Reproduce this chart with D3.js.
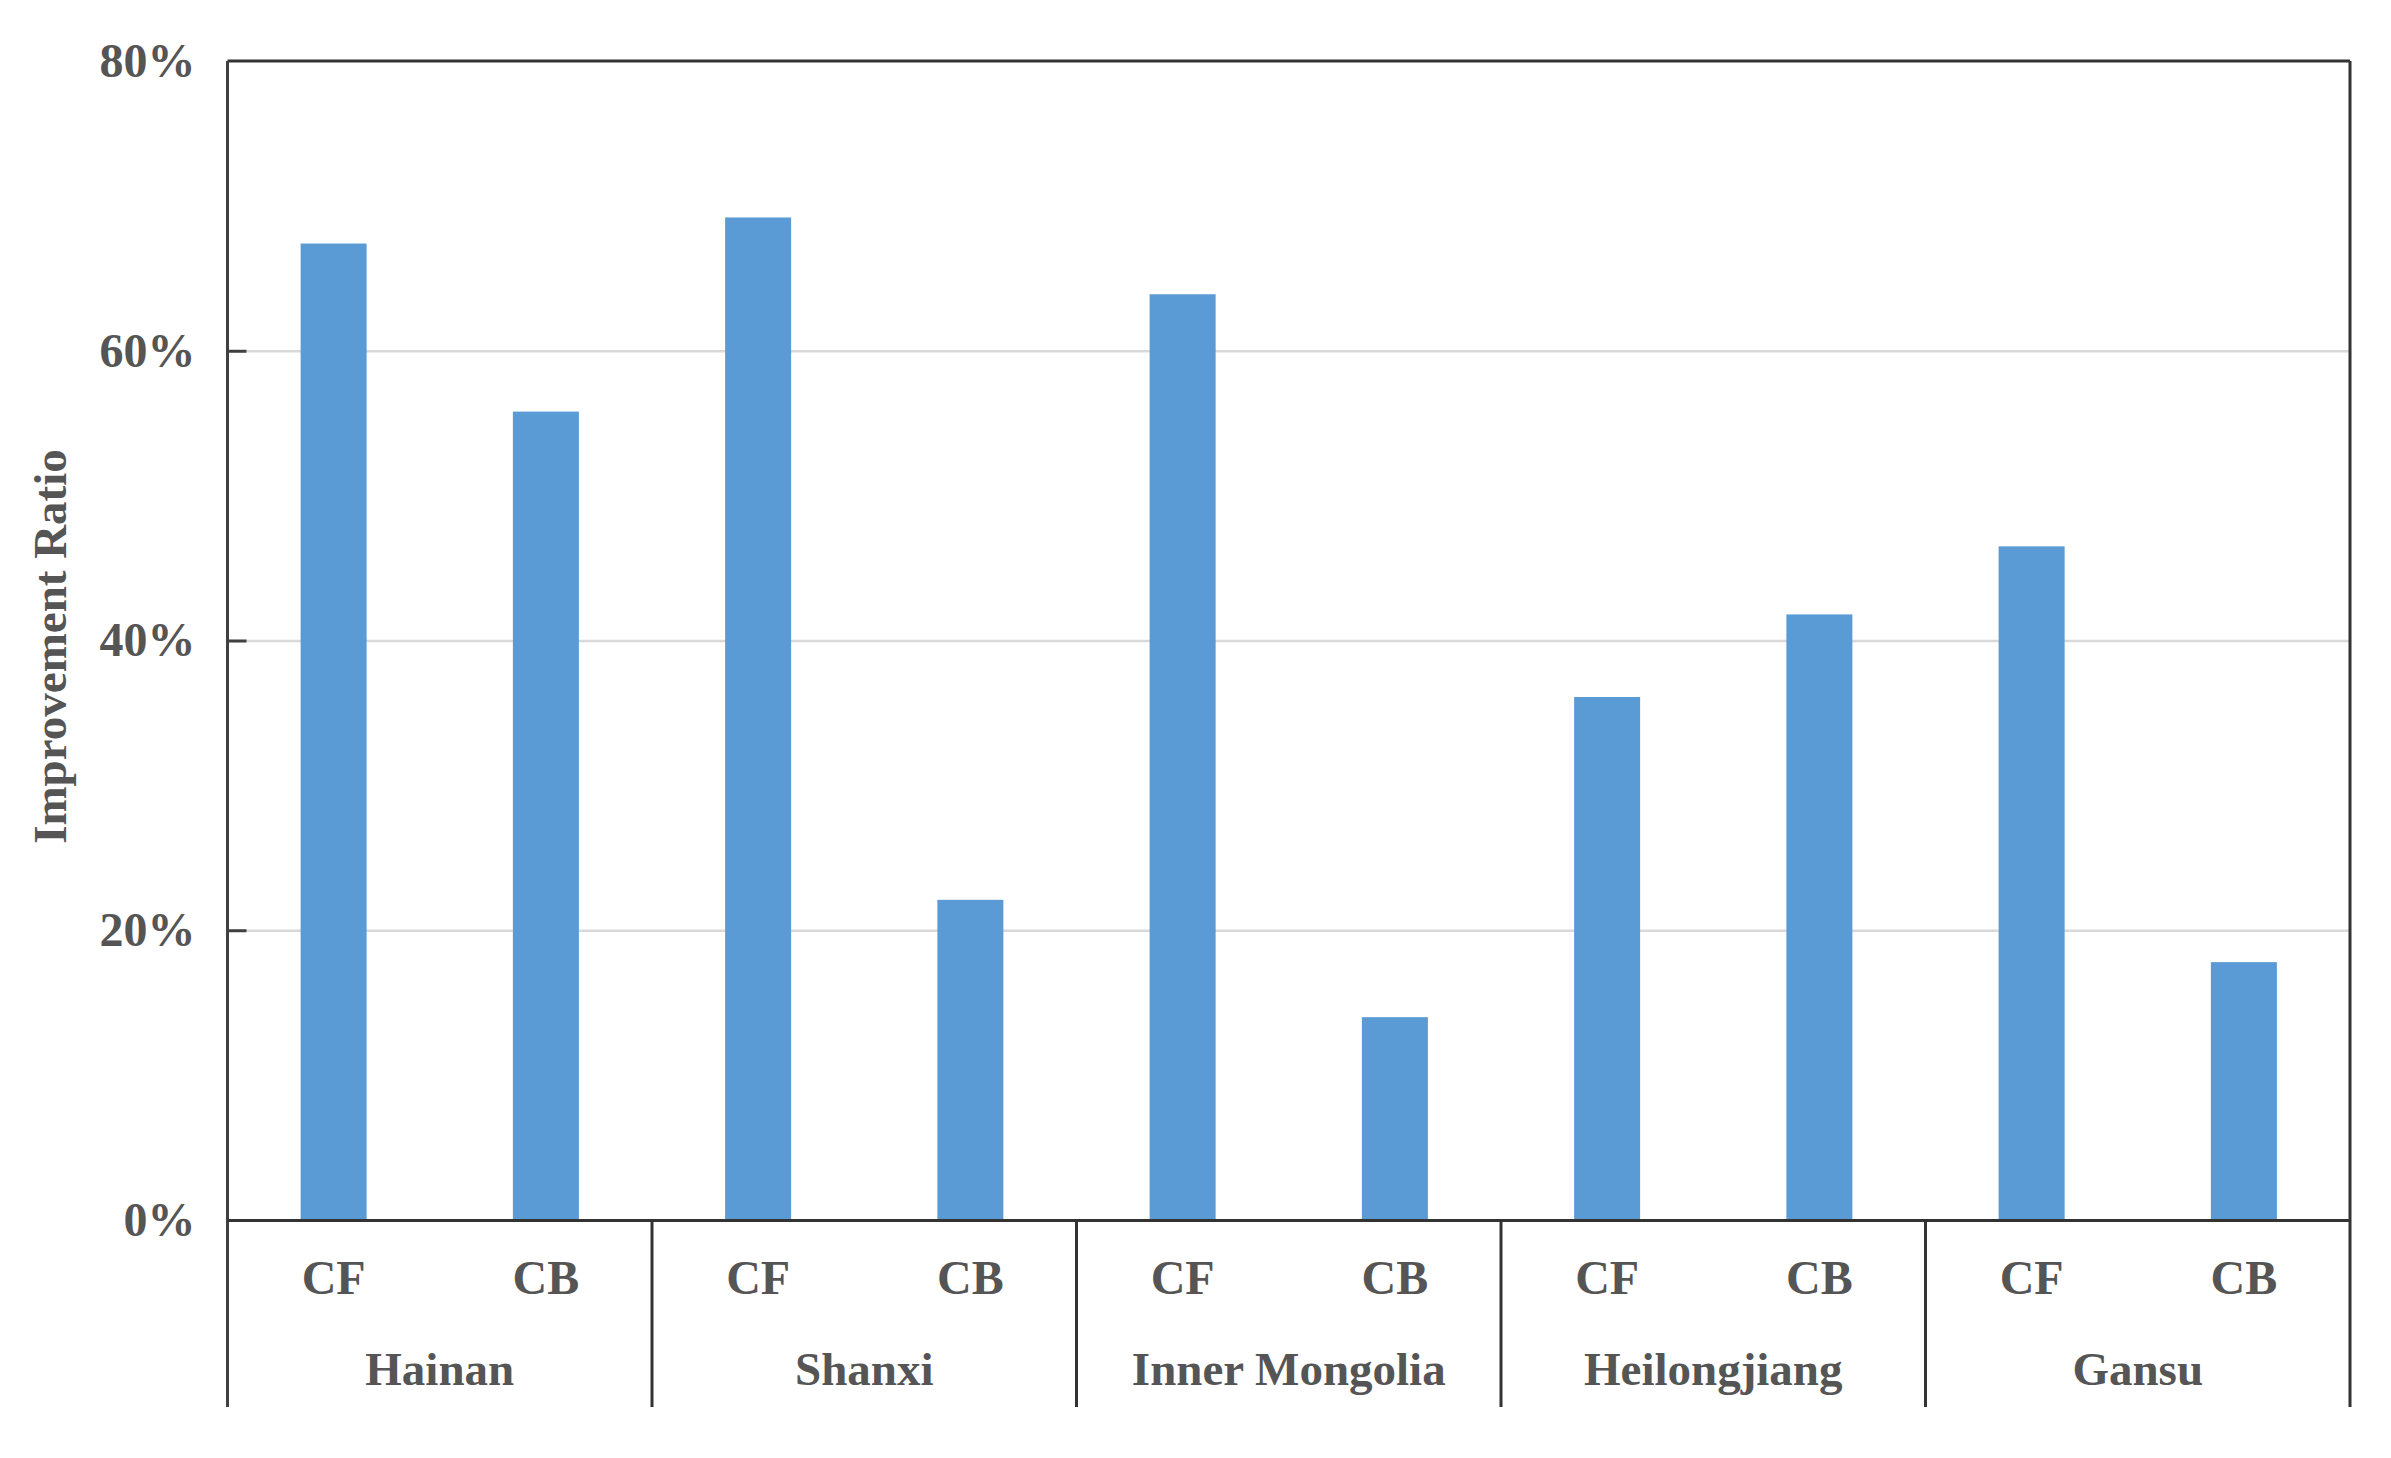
<!DOCTYPE html>
<html>
<head>
<meta charset="utf-8">
<script src="https://cdn.jsdelivr.net/npm/d3@7"></script>
<style>
  html, body { margin: 0; padding: 0; background: #fff; }
  svg { display: block; }
  text { font-family: "Liberation Serif", "Times New Roman", serif; font-weight: bold; fill: #555; }
</style>
</head>
<body>
<svg id="chart" width="2391" height="1458"></svg>
<script>
// ---- data ----
const regions = ["Hainan", "Shanxi", "Inner Mongolia", "Heilongjiang", "Gansu"];
const methods = ["CF", "CB"];
const cfValues = [67.4, 69.2, 63.9, 36.1, 46.5];
const cbValues = [55.8, 22.1, 14.0, 41.8, 17.8];
const yTicks = [0, 20, 40, 60, 80];
const yLabel = "Improvement Ratio";

// ---- layout ----
const W = 2391, H = 1458;
const margin = { left: 227.5, right: W - 2350, top: 61, bottom: H - 1220 };
const plotW = W - margin.left - margin.right;
const plotH = H - margin.top - margin.bottom;
const lowerDepth = 187;

const svg = d3.select("#chart");
const g = svg.append("g").attr("transform", `translate(${margin.left},${margin.top})`);

// flatten
const items = [];
regions.forEach((r, i) => {
  items.push({ key: r + "|CF", region: r, method: "CF", value: cfValues[i] });
  items.push({ key: r + "|CB", region: r, method: "CB", value: cbValues[i] });
});

const x = d3.scaleBand().domain(items.map(d => d.key)).range([0, plotW])
  .paddingInner(0.689).paddingOuter(0.689 / 2);
const xg = d3.scaleBand().domain(regions).range([0, plotW]).padding(0);
const y = d3.scaleLinear().domain([0, 80]).range([plotH, 0]);

// gridlines
g.append("g")
  .call(d3.axisLeft(y).tickValues(yTicks.filter(t => t > 0 && t < 80)).tickSize(-plotW).tickFormat(""))
  .call(a => a.select(".domain").remove())
  .call(a => a.selectAll("line").attr("stroke", "#d9d9d9").attr("stroke-width", 2.5));

// bars
g.append("g").selectAll("rect").data(items).join("rect")
  .attr("x", d => x(d.key))
  .attr("width", x.bandwidth())
  .attr("y", d => y(d.value))
  .attr("height", d => y(0) - y(d.value))
  .attr("fill", "#5b9bd5");

// y axis
const yAxis = g.append("g")
  .call(d3.axisLeft(y).tickValues(yTicks).tickFormat(d => d + "%").tickSizeInner(-19).tickSizeOuter(0).tickPadding(32));
yAxis.select(".domain").remove();
yAxis.selectAll(".tick line").attr("stroke", "#404040").attr("stroke-width", 3)
  .filter(d => d === 0 || d === 80).remove();
yAxis.selectAll(".tick text")
  .style("font-size", "48px").style("font-family", "'Liberation Serif', serif")
  .style("font-weight", "bold").attr("fill", "#555");

// frame: top, right, left (extending into lower axis)
const frameColor = "#333";
g.append("line").attr("x1", 0).attr("x2", plotW).attr("y1", 0).attr("y2", 0)
  .attr("stroke", frameColor).attr("stroke-width", 3);
g.append("line").attr("x1", plotW).attr("x2", plotW).attr("y1", 0).attr("y2", plotH + lowerDepth)
  .attr("stroke", frameColor).attr("stroke-width", 3);
g.append("line").attr("x1", 0).attr("x2", 0).attr("y1", 0).attr("y2", plotH + lowerDepth)
  .attr("stroke", "#404040").attr("stroke-width", 3);

// x axis (method labels)
const xAxis = g.append("g").attr("transform", `translate(0,${plotH})`)
  .call(d3.axisBottom(x).tickSize(0).tickPadding(0).tickFormat(k => k.split("|")[1]));
xAxis.select(".domain").attr("stroke", frameColor).attr("stroke-width", 3);
xAxis.selectAll(".tick text")
  .attr("dy", null).attr("y", 63).attr("dominant-baseline", "middle")
  .style("font-size", "48px").style("font-family", "'Liberation Serif', serif")
  .style("font-weight", "bold").attr("fill", "#555");

// group separators
const bounds = regions.map(r => xg(r)).concat([plotW]).slice(1, -1);
g.append("g").selectAll("line").data(bounds).join("line")
  .attr("x1", d => d).attr("x2", d => d)
  .attr("y1", plotH).attr("y2", plotH + lowerDepth)
  .attr("stroke", frameColor).attr("stroke-width", 3);

// group labels
g.append("g").selectAll("text").data(regions).join("text")
  .attr("x", d => xg(d) + xg.bandwidth() / 2)
  .attr("y", plotH + 154)
  .attr("text-anchor", "middle").attr("dominant-baseline", "middle")
  .style("font-size", "47px")
  .text(d => d);

// y label
svg.append("text")
  .attr("transform", `translate(55,${margin.top + plotH / 2 + 6}) rotate(-90)`)
  .attr("text-anchor", "middle").attr("dominant-baseline", "middle")
  .style("font-size", "47px")
  .text(yLabel);
</script>
</body>
</html>
